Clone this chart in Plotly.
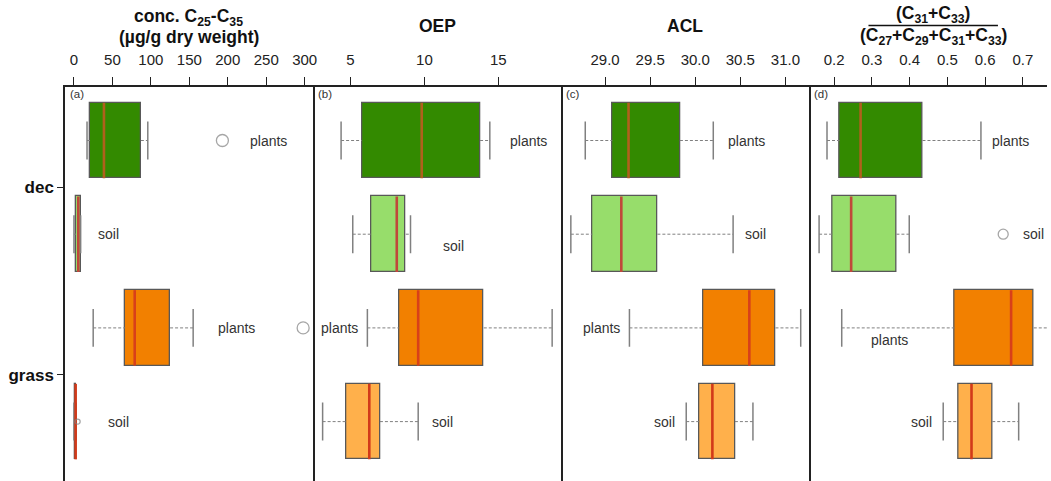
import plotly.graph_objects as go

# ---- data -------------------------------------------------------------
groups = ["dec plants", "dec soil", "grass plants", "grass soil"]
group_pos = [0, 1, 2, 3]
habitat_labels = ["dec", "grass"]
habitat_pos = [0.5, 2.5]
sample_labels = ["plants", "soil", "plants", "soil"]

# conc. C25-C35 (µg/g dry weight)
conc_lo = [17, 0, 25, 0]
conc_q1 = [21, 2.6, 66.5, 1.6]
conc_med = [39, 5.6, 79, 2.2]
conc_q3 = [87, 8.7, 125, 2.8]
conc_hi = [96, 8.7, 155, 3.0]
conc_out_group = [0, 2, 3]
conc_out_val = [193, 298, 4.8]

# OEP
oep_lo = [4.36, 5.15, 6.14, 3.11]
oep_q1 = [5.77, 6.38, 8.27, 4.72]
oep_med = [9.82, 8.13, 9.58, 6.27]
oep_q3 = [13.77, 8.74, 14.02, 6.99]
oep_hi = [14.43, 9.06, 18.65, 9.58]
oep_out_group = []
oep_out_val = []

# ACL
acl_lo = [28.78, 28.62, 29.27, 29.90]
acl_q1 = [29.08, 28.86, 30.09, 30.05]
acl_med = [29.26, 29.18, 30.60, 30.19]
acl_q3 = [29.83, 29.58, 30.89, 30.44]
acl_hi = [30.20, 30.42, 31.17, 30.64]
acl_out_group = []
acl_out_val = []

# (C31+C33)/(C27+C29+C31+C33)
ratio_lo = [0.181, 0.160, 0.220, 0.489]
ratio_q1 = [0.214, 0.195, 0.519, 0.529]
ratio_med = [0.270, 0.245, 0.669, 0.564]
ratio_q3 = [0.434, 0.365, 0.729, 0.619]
ratio_hi = [0.589, 0.399, 0.80, 0.689]
ratio_out_group = [1]
ratio_out_val = [0.648]

x_ticks_conc = [0, 50, 100, 150, 200, 250, 300]
x_ticks_oep = [5, 10, 15]
x_ticks_acl = [29.0, 29.5, 30.0, 30.5, 31.0]
x_ticks_ratio = [0.2, 0.3, 0.4, 0.5, 0.6, 0.7]

# ---- styling ----------------------------------------------------------
FONT = "Arial, Liberation Sans, Helvetica, sans-serif"
fill_colors = ["#338a00", "#97dd6b", "#f28000", "#ffb04b"]
median_colors = ["#b0601c", "#c0483a", "#d8401a", "#d23a1a"]
outline_color = "#585858"
whisker_color = "#808080"
BOX_H = 0.806
CAP_H = 0.405

panels = [
    dict(lo=conc_lo, q1=conc_q1, med=conc_med, q3=conc_q3, hi=conc_hi,
         og=conc_out_group, ov=conc_out_val, ticks=x_ticks_conc,
         rng=[-11.65, 311.2], fmt=None, tag="(a)",
         # where each "plants"/"soil" label sits: (x, y, anchor)
         lab=[(226, 0, "left"), (28.5, 1, "left"), (185, 2, "left"), (42, 3, "left")],
         out_size=[12, 12, 5]),
    dict(lo=oep_lo, q1=oep_q1, med=oep_med, q3=oep_q3, hi=oep_hi,
         og=oep_out_group, ov=oep_out_val, ticks=x_ticks_oep,
         rng=[2.478, 19.268], fmt=None, tag="(b)",
         lab=[(15.66, 0, "left"), (11.13, 1.13, "left"), (5.67, 2, "right"), (10.38, 3, "left")],
         out_size=[]),
    dict(lo=acl_lo, q1=acl_q1, med=acl_med, q3=acl_q3, hi=acl_hi,
         og=acl_out_group, ov=acl_out_val, ticks=x_ticks_acl,
         rng=[28.514, 31.267], fmt=".1f", tag="(c)",
         lab=[(30.34, 0, "left"), (30.53, 1, "left"), (29.185, 2, "right"), (29.80, 3, "right")],
         out_size=[]),
    dict(lo=ratio_lo, q1=ratio_q1, med=ratio_med, q3=ratio_q3, hi=ratio_hi,
         og=ratio_out_group, ov=ratio_out_val, ticks=x_ticks_ratio,
         rng=[0.1345, 0.7641], fmt=".1f", tag="(d)",
         lab=[(0.614, 0, "left"), (0.695, 1, "left"), (0.402, 2.13, "right"), (0.465, 3, "right")],
         out_size=[10]),
]

W, H = 1051, 481
ML, MT = 65, 87
plot_w = W - ML
edges_px = [64.7, 314.3, 563.3, 812.5, 1051]
domains = []
for i in range(4):
    a = max(0.0, (edges_px[i] - ML) / plot_w)
    b = min(1.0, (edges_px[i + 1] - ML) / plot_w)
    domains.append([a, b])

fig = go.Figure()

for p_i, p in enumerate(panels):
    xa = "x" if p_i == 0 else f"x{p_i + 1}"
    ya = "y" if p_i == 0 else f"y{p_i + 1}"

    for g in range(4):
        y0 = group_pos[g]
        # dashed whiskers
        fig.add_trace(go.Scatter(
            x=[p["lo"][g], p["q1"][g], None, p["q3"][g], p["hi"][g]],
            y=[y0, y0, None, y0, y0], mode="lines",
            line=dict(color=whisker_color, width=1, dash="3px,2px"),
            xaxis=xa, yaxis=ya, showlegend=False, hoverinfo="skip"))
        # whisker caps
        fig.add_trace(go.Scatter(
            x=[p["lo"][g], p["lo"][g], None, p["hi"][g], p["hi"][g]],
            y=[y0 - CAP_H / 2, y0 + CAP_H / 2, None, y0 - CAP_H / 2, y0 + CAP_H / 2],
            mode="lines", line=dict(color=whisker_color, width=1.5),
            xaxis=xa, yaxis=ya, showlegend=False, hoverinfo="skip"))

    # interquartile boxes
    fig.add_trace(go.Bar(
        y=group_pos, x=[q3 - q1 for q1, q3 in zip(p["q1"], p["q3"])], base=p["q1"],
        orientation="h", width=BOX_H,
        marker=dict(color=fill_colors, line=dict(color=outline_color, width=1.3)),
        xaxis=xa, yaxis=ya, showlegend=False, hoverinfo="skip"))

    # medians
    for g in range(4):
        y0 = group_pos[g]
        fig.add_trace(go.Scatter(
            x=[p["med"][g], p["med"][g]], y=[y0 - BOX_H / 2, y0 + BOX_H / 2],
            mode="lines", line=dict(color=median_colors[g], width=2.6),
            xaxis=xa, yaxis=ya, showlegend=False, hoverinfo="skip"))

    # outliers
    if p["og"]:
        fig.add_trace(go.Scatter(
            x=p["ov"], y=[group_pos[g] for g in p["og"]], mode="markers",
            marker=dict(symbol="circle-open", size=p["out_size"], color=whisker_color,
                        line=dict(width=1.3, color=whisker_color)),
            xaxis=xa, yaxis=ya, showlegend=False, hoverinfo="skip", cliponaxis=False))

    # sample type labels
    for g, (lx, ly, anc) in enumerate(p["lab"]):
        fig.add_annotation(x=lx, y=ly, xref=xa, yref=ya, text=sample_labels[g],
                           showarrow=False, xanchor=anc, yanchor="middle",
                           font=dict(family=FONT, size=14, color="#333333"))

    # panel tag
    fig.add_annotation(x=0.012, y=1, xref=f"{xa} domain", yref=f"{ya} domain",
                       text=p["tag"], showarrow=False, xanchor="left", yanchor="top",
                       yshift=1, font=dict(family=FONT, size=11.5, color="#333333"))

    xkey = "xaxis" if p_i == 0 else f"xaxis{p_i + 1}"
    ykey = "yaxis" if p_i == 0 else f"yaxis{p_i + 1}"
    xaxis = dict(domain=domains[p_i], range=p["rng"], side="top", anchor=ya,
                 tickmode="array", tickvals=p["ticks"],
                 ticks="outside", ticklen=8, tickwidth=1.3, tickcolor="#222222",
                 ticklabelstandoff=6,
                 showline=True, linecolor="#222222", linewidth=1.5, mirror=False,
                 showgrid=False, zeroline=False,
                 tickfont=dict(family=FONT, size=15, color="#222222"))
    if p["fmt"]:
        xaxis["tickformat"] = p["fmt"]
    yaxis = dict(domain=[0, 1], range=[3.634, -0.571], anchor=xa,
                 showgrid=False, zeroline=False,
                 linecolor="#222222", linewidth=1.5)
    if p_i == 0:
        # left frame plus the divider on its right
        yaxis.update(showline=True, mirror=True,
                     tickmode="array", tickvals=habitat_pos,
                     ticktext=[f"<b>{t}</b>" for t in habitat_labels],
                     ticks="outside", ticklen=6, tickwidth=1.3, tickcolor="#222222",
                     tickfont=dict(family=FONT, size=17, color="#111111"))
    elif p_i < 3:
        # only the divider on the right side
        yaxis.update(showline=True, mirror=False, side="right",
                     showticklabels=False, ticks="")
    else:
        yaxis.update(showline=False, showticklabels=False, ticks="")
    fig.update_layout({xkey: xaxis, ykey: yaxis})

# panel titles
plot_h = H - MT


def py(px):
    return 1 + (MT - px) / plot_h


def centre(i):
    return ((edges_px[i] + (edges_px[i + 1] if i < 3 else 1061)) / 2 - ML) / plot_w


title_font = dict(family=FONT, size=17.5, color="#111111")
fig.add_annotation(x=centre(0), y=py(17), xref="paper", yref="paper", showarrow=False,
                   text="<b>conc. C<sub>25</sub>-C<sub>35</sub></b>", font=title_font,
                   xanchor="center", yanchor="middle")
fig.add_annotation(x=centre(0), y=py(37), xref="paper", yref="paper", showarrow=False,
                   text="<b>(µg/g dry weight)</b>", font=title_font,
                   xanchor="center", yanchor="middle")
fig.add_annotation(x=centre(1), y=py(26), xref="paper", yref="paper", showarrow=False,
                   text="<b>OEP</b>", font=title_font, xanchor="center", yanchor="middle")
fig.add_annotation(x=centre(2), y=py(26), xref="paper", yref="paper", showarrow=False,
                   text="<b>ACL</b>", font=title_font, xanchor="center", yanchor="middle")
fig.add_annotation(x=centre(3), y=py(14), xref="paper", yref="paper", showarrow=False,
                   text="<b>(C<sub>31</sub>+C<sub>33</sub>)</b>", font=title_font,
                   xanchor="center", yanchor="middle")
fig.add_annotation(x=centre(3), y=py(37), xref="paper", yref="paper", showarrow=False,
                   text="<b>(C<sub>27</sub>+C<sub>29</sub>+C<sub>31</sub>+C<sub>33</sub>)</b>",
                   font=title_font, xanchor="center", yanchor="middle")
fig.add_shape(type="line", xref="paper", yref="paper",
              x0=centre(3) - 65 / plot_w, x1=centre(3) + 65 / plot_w,
              y0=py(25.5), y1=py(25.5), line=dict(color="#111111", width=1.6))

fig.update_layout(
    width=W, height=H,
    margin=dict(l=ML, r=0, t=MT, b=0),
    paper_bgcolor="white", plot_bgcolor="white",
    bargap=0, showlegend=False,
)

fig.write_html("out.html")
